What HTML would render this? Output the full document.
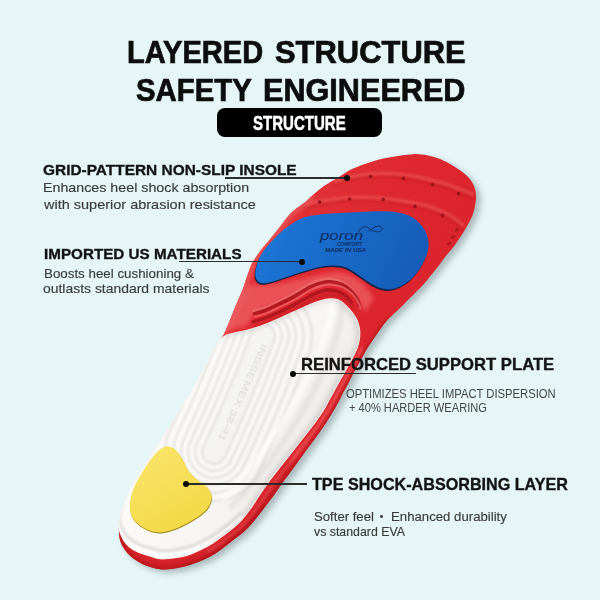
<!DOCTYPE html>
<html><head><meta charset="utf-8"><style>
html,body{margin:0;padding:0}
body{width:600px;height:600px;position:relative;overflow:hidden;background:#e6f5f5;font-family:"Liberation Sans",sans-serif;color:#111}
.t{position:absolute;white-space:nowrap;line-height:1;transform-origin:0 0}
.h1{font-weight:bold;color:#0d0d0d;-webkit-text-stroke:0.7px #0d0d0d}
.pt{font-weight:bold;color:#fff;-webkit-text-stroke:0.5px #fff}
.h2{font-weight:bold;color:#141414;-webkit-text-stroke:0.35px #141414}
.p{color:#3a3a3a;-webkit-text-stroke:0.15px #3a3a3a}
.p2{color:#454545}
.ln{position:absolute;height:1.25px;background:#2c2c2c}
.dot{position:absolute;width:6px;height:6px;border-radius:50%;background:#0a0a0a}
</style></head><body>
<svg id="insole" width="600" height="600" viewBox="0 0 600 600" style="position:absolute;left:0;top:0">
<defs>
<linearGradient id="gr" gradientUnits="userSpaceOnUse" x1="250" y1="180" x2="470" y2="330"><stop offset="0" stop-color="#e43a3d"/><stop offset="0.45" stop-color="#df272f"/><stop offset="1" stop-color="#d9222b"/></linearGradient>
<linearGradient id="gw" gradientUnits="userSpaceOnUse" x1="200" y1="400" x2="325" y2="470"><stop offset="0" stop-color="#fbfaf9"/><stop offset="0.5" stop-color="#f6f5f3"/><stop offset="0.8" stop-color="#eeece9"/><stop offset="1" stop-color="#e1deda"/></linearGradient>
<linearGradient id="gb" gradientUnits="userSpaceOnUse" x1="270" y1="220" x2="420" y2="290"><stop offset="0" stop-color="#1c76d6"/><stop offset="0.5" stop-color="#1968c6"/><stop offset="1" stop-color="#145cb6"/></linearGradient>
<linearGradient id="gy" gradientUnits="userSpaceOnUse" x1="150" y1="450" x2="195" y2="530"><stop offset="0" stop-color="#f9e468"/><stop offset="1" stop-color="#f3d843"/></linearGradient>
<filter id="blur3" filterUnits="userSpaceOnUse" x="0" y="0" width="600" height="600"><feGaussianBlur stdDeviation="3"/></filter>
<filter id="blur1" filterUnits="userSpaceOnUse" x="0" y="0" width="600" height="600"><feGaussianBlur stdDeviation="1"/></filter>
<filter id="blur05" filterUnits="userSpaceOnUse" x="0" y="0" width="600" height="600"><feGaussianBlur stdDeviation="0.6"/></filter>
<filter id="blur2" filterUnits="userSpaceOnUse" x="0" y="0" width="600" height="600"><feGaussianBlur stdDeviation="2.2"/></filter>
<clipPath id="cw"><path d="M119.0,527.0C118.7,522.8 119.8,518.5 121.0,514.0C122.2,509.5 124.2,504.7 126.0,500.0C127.8,495.3 129.7,490.5 132.0,486.0C134.3,481.5 137.2,477.5 140.0,473.0C142.8,468.5 145.7,464.2 149.0,459.0C152.3,453.8 156.5,447.5 160.0,442.0C163.5,436.5 166.7,431.3 170.0,426.0C173.3,420.7 176.7,415.3 180.0,410.0C183.3,404.7 186.7,399.7 190.0,394.0C193.3,388.3 197.0,381.3 200.0,376.0C203.0,370.7 205.7,366.3 208.0,362.0C210.3,357.7 212.2,353.5 214.0,350.0C215.8,346.5 217.2,343.3 219.0,341.0C220.8,338.7 222.8,337.2 225.0,336.0C227.2,334.8 228.3,334.6 232.5,333.5C236.7,332.4 244.6,331.0 250.0,329.5C255.4,328.0 259.6,326.6 265.0,324.5C270.4,322.4 276.7,319.6 282.5,317.0C288.3,314.4 294.6,311.4 300.0,309.0C305.4,306.6 310.4,304.1 315.0,302.5C319.6,300.9 323.8,299.7 327.5,299.2C331.2,298.7 334.4,298.9 337.0,299.5C339.6,300.1 341.0,301.4 343.0,303.0C345.0,304.6 347.2,307.0 349.0,309.0C350.8,311.0 352.6,313.0 354.0,315.0C355.4,317.0 356.4,318.6 357.3,321.0C358.2,323.4 359.1,326.5 359.5,329.3C359.9,332.1 359.8,335.1 359.5,338.0C359.2,340.9 358.4,343.9 357.5,346.7C356.6,349.5 355.4,351.8 354.0,354.7C352.6,357.6 350.7,360.9 349.0,364.0C347.3,367.1 345.8,370.2 344.0,373.3C342.2,376.4 340.2,379.6 338.5,382.7C336.8,385.8 335.1,389.1 333.5,392.0C331.9,394.9 330.8,396.8 329.0,400.0C327.2,403.2 325.6,406.9 323.0,411.0C320.4,415.1 316.8,420.0 313.5,424.5C310.2,429.0 306.6,433.4 303.0,438.0C299.4,442.6 295.7,447.3 292.0,452.0C288.3,456.7 284.7,461.3 281.0,466.0C277.3,470.7 273.6,475.2 270.0,480.0C266.4,484.8 262.9,490.0 259.5,495.0C256.1,500.0 252.5,505.8 249.5,510.0C246.5,514.2 244.2,517.1 241.5,520.0C238.8,522.9 236.4,525.0 233.5,527.5C230.6,530.0 227.4,532.5 224.0,535.0C220.6,537.5 217.3,540.2 213.3,542.7C209.3,545.2 204.4,547.9 200.0,550.0C195.6,552.1 191.1,554.0 186.7,555.3C182.2,556.6 177.8,557.4 173.3,558.0C168.9,558.6 163.9,559.0 160.0,558.7C156.1,558.4 153.7,557.1 150.0,556.0C146.3,554.9 141.5,553.6 138.0,552.0C134.5,550.4 131.5,548.7 129.0,546.5C126.5,544.3 124.7,542.2 123.0,539.0C121.3,535.8 119.3,531.2 119.0,527.0Z"/></clipPath>
<clipPath id="co"><path d="M119.0,527.0C119.2,522.7 119.8,518.5 121.0,514.0C122.2,509.5 124.2,504.7 126.0,500.0C127.8,495.3 129.7,490.5 132.0,486.0C134.3,481.5 137.2,477.5 140.0,473.0C142.8,468.5 145.7,464.2 149.0,459.0C152.3,453.8 156.5,447.5 160.0,442.0C163.5,436.5 166.7,431.3 170.0,426.0C173.3,420.7 176.7,415.3 180.0,410.0C183.3,404.7 186.7,399.7 190.0,394.0C193.3,388.3 197.0,381.3 200.0,376.0C203.0,370.7 205.7,366.3 208.0,362.0C210.3,357.7 212.2,353.5 214.0,350.0C215.8,346.5 217.3,343.7 219.0,341.0C220.7,338.3 222.2,337.5 224.0,334.0C225.8,330.5 228.0,324.8 230.0,320.0C232.0,315.2 233.9,310.0 236.0,305.0C238.1,300.0 240.6,295.0 242.5,290.0C244.4,285.0 245.8,279.6 247.5,275.0C249.2,270.4 250.2,266.7 252.5,262.5C254.8,258.3 258.2,253.7 261.0,250.0C263.8,246.3 266.0,244.2 269.0,240.5C272.0,236.8 275.5,232.4 279.0,228.0C282.5,223.6 286.8,217.4 290.0,214.0C293.2,210.6 295.5,209.2 298.0,207.3C300.5,205.4 302.7,204.2 305.0,202.3C307.3,200.4 308.8,198.5 312.0,195.8C315.2,193.1 320.3,188.6 324.0,186.0C327.7,183.4 331.0,181.8 334.0,180.0C337.0,178.2 339.3,176.7 342.0,175.0C344.7,173.3 346.7,171.7 350.0,170.0C353.3,168.3 358.0,166.5 362.0,165.0C366.0,163.5 370.0,162.2 374.0,161.0C378.0,159.8 382.0,158.8 386.0,158.0C390.0,157.2 394.0,156.6 398.0,156.0C402.0,155.4 407.0,154.9 410.0,154.6C413.0,154.3 413.0,153.9 416.0,154.0C419.0,154.1 424.0,154.6 428.0,155.4C432.0,156.2 435.9,157.3 440.0,159.0C444.1,160.7 448.7,163.2 452.5,165.5C456.3,167.8 460.1,170.2 463.0,172.5C465.9,174.8 468.1,176.8 470.0,179.3C471.9,181.8 473.5,184.7 474.5,187.5C475.5,190.3 475.9,193.2 476.0,196.0C476.1,198.8 475.9,200.9 475.3,204.0C474.8,207.1 474.2,210.9 472.7,214.7C471.2,218.5 468.6,223.2 466.5,227.0C464.4,230.8 462.2,234.1 460.0,237.5C457.8,240.9 455.5,244.2 453.0,247.5C450.5,250.8 447.2,254.2 445.0,257.0C442.8,259.8 442.2,261.2 440.0,264.0C437.8,266.8 435.0,270.3 432.0,274.0C429.0,277.7 425.7,282.0 422.0,286.0C418.3,290.0 413.7,294.3 410.0,298.0C406.3,301.7 403.8,304.3 400.0,308.0C396.2,311.7 390.8,316.5 387.5,320.0C384.2,323.5 382.8,325.8 380.5,329.0C378.2,332.2 375.7,335.8 373.5,339.0C371.3,342.2 369.2,345.2 367.5,348.0C365.8,350.8 364.5,353.3 363.0,356.0C361.5,358.7 360.1,361.2 358.5,364.0C356.9,366.8 355.2,369.8 353.5,373.0C351.8,376.2 350.2,379.8 348.5,383.0C346.8,386.2 345.0,389.2 343.5,392.0C342.0,394.8 341.1,397.0 339.5,400.0C337.9,403.0 336.4,405.9 334.0,410.0C331.6,414.1 328.1,419.8 325.0,424.5C321.9,429.2 318.8,433.4 315.5,438.0C312.2,442.6 308.4,447.3 305.0,452.0C301.6,456.7 298.4,461.3 295.0,466.0C291.6,470.7 288.0,475.2 284.5,480.0C281.0,484.8 277.3,490.4 274.0,495.0C270.7,499.6 267.8,503.2 264.5,507.5C261.2,511.8 257.6,516.8 254.0,521.0C250.4,525.2 246.4,529.4 243.0,532.5C239.6,535.6 236.7,537.3 233.5,539.8C230.3,542.3 227.4,544.8 224.0,547.3C220.6,549.8 217.3,552.4 213.3,554.7C209.3,557.0 204.4,559.4 200.0,561.3C195.6,563.2 191.1,564.8 186.7,566.0C182.2,567.2 177.8,568.2 173.3,568.7C168.9,569.2 164.6,569.8 160.0,569.3C155.4,568.8 150.3,567.2 146.0,565.5C141.7,563.8 137.5,561.6 134.0,559.0C130.5,556.4 127.3,553.2 125.0,550.0C122.7,546.8 121.0,543.8 120.0,540.0C119.0,536.2 118.8,531.3 119.0,527.0Z"/></clipPath>
</defs>
<path d="M119.0,527.0C119.2,522.7 119.8,518.5 121.0,514.0C122.2,509.5 124.2,504.7 126.0,500.0C127.8,495.3 129.7,490.5 132.0,486.0C134.3,481.5 137.2,477.5 140.0,473.0C142.8,468.5 145.7,464.2 149.0,459.0C152.3,453.8 156.5,447.5 160.0,442.0C163.5,436.5 166.7,431.3 170.0,426.0C173.3,420.7 176.7,415.3 180.0,410.0C183.3,404.7 186.7,399.7 190.0,394.0C193.3,388.3 197.0,381.3 200.0,376.0C203.0,370.7 205.7,366.3 208.0,362.0C210.3,357.7 212.2,353.5 214.0,350.0C215.8,346.5 217.3,343.7 219.0,341.0C220.7,338.3 222.2,337.5 224.0,334.0C225.8,330.5 228.0,324.8 230.0,320.0C232.0,315.2 233.9,310.0 236.0,305.0C238.1,300.0 240.6,295.0 242.5,290.0C244.4,285.0 245.8,279.6 247.5,275.0C249.2,270.4 250.2,266.7 252.5,262.5C254.8,258.3 258.2,253.7 261.0,250.0C263.8,246.3 266.0,244.2 269.0,240.5C272.0,236.8 275.5,232.4 279.0,228.0C282.5,223.6 286.8,217.4 290.0,214.0C293.2,210.6 295.5,209.2 298.0,207.3C300.5,205.4 302.7,204.2 305.0,202.3C307.3,200.4 308.8,198.5 312.0,195.8C315.2,193.1 320.3,188.6 324.0,186.0C327.7,183.4 331.0,181.8 334.0,180.0C337.0,178.2 339.3,176.7 342.0,175.0C344.7,173.3 346.7,171.7 350.0,170.0C353.3,168.3 358.0,166.5 362.0,165.0C366.0,163.5 370.0,162.2 374.0,161.0C378.0,159.8 382.0,158.8 386.0,158.0C390.0,157.2 394.0,156.6 398.0,156.0C402.0,155.4 407.0,154.9 410.0,154.6C413.0,154.3 413.0,153.9 416.0,154.0C419.0,154.1 424.0,154.6 428.0,155.4C432.0,156.2 435.9,157.3 440.0,159.0C444.1,160.7 448.7,163.2 452.5,165.5C456.3,167.8 460.1,170.2 463.0,172.5C465.9,174.8 468.1,176.8 470.0,179.3C471.9,181.8 473.5,184.7 474.5,187.5C475.5,190.3 475.9,193.2 476.0,196.0C476.1,198.8 475.9,200.9 475.3,204.0C474.8,207.1 474.2,210.9 472.7,214.7C471.2,218.5 468.6,223.2 466.5,227.0C464.4,230.8 462.2,234.1 460.0,237.5C457.8,240.9 455.5,244.2 453.0,247.5C450.5,250.8 447.2,254.2 445.0,257.0C442.8,259.8 442.2,261.2 440.0,264.0C437.8,266.8 435.0,270.3 432.0,274.0C429.0,277.7 425.7,282.0 422.0,286.0C418.3,290.0 413.7,294.3 410.0,298.0C406.3,301.7 403.8,304.3 400.0,308.0C396.2,311.7 390.8,316.5 387.5,320.0C384.2,323.5 382.8,325.8 380.5,329.0C378.2,332.2 375.7,335.8 373.5,339.0C371.3,342.2 369.2,345.2 367.5,348.0C365.8,350.8 364.5,353.3 363.0,356.0C361.5,358.7 360.1,361.2 358.5,364.0C356.9,366.8 355.2,369.8 353.5,373.0C351.8,376.2 350.2,379.8 348.5,383.0C346.8,386.2 345.0,389.2 343.5,392.0C342.0,394.8 341.1,397.0 339.5,400.0C337.9,403.0 336.4,405.9 334.0,410.0C331.6,414.1 328.1,419.8 325.0,424.5C321.9,429.2 318.8,433.4 315.5,438.0C312.2,442.6 308.4,447.3 305.0,452.0C301.6,456.7 298.4,461.3 295.0,466.0C291.6,470.7 288.0,475.2 284.5,480.0C281.0,484.8 277.3,490.4 274.0,495.0C270.7,499.6 267.8,503.2 264.5,507.5C261.2,511.8 257.6,516.8 254.0,521.0C250.4,525.2 246.4,529.4 243.0,532.5C239.6,535.6 236.7,537.3 233.5,539.8C230.3,542.3 227.4,544.8 224.0,547.3C220.6,549.8 217.3,552.4 213.3,554.7C209.3,557.0 204.4,559.4 200.0,561.3C195.6,563.2 191.1,564.8 186.7,566.0C182.2,567.2 177.8,568.2 173.3,568.7C168.9,569.2 164.6,569.8 160.0,569.3C155.4,568.8 150.3,567.2 146.0,565.5C141.7,563.8 137.5,561.6 134.0,559.0C130.5,556.4 127.3,553.2 125.0,550.0C122.7,546.8 121.0,543.8 120.0,540.0C119.0,536.2 118.8,531.3 119.0,527.0Z" fill="#56696e" opacity="0.42" transform="translate(4.5,3.5)" filter="url(#blur3)"/>
<path d="M119.0,527.0C119.2,522.7 119.8,518.5 121.0,514.0C122.2,509.5 124.2,504.7 126.0,500.0C127.8,495.3 129.7,490.5 132.0,486.0C134.3,481.5 137.2,477.5 140.0,473.0C142.8,468.5 145.7,464.2 149.0,459.0C152.3,453.8 156.5,447.5 160.0,442.0C163.5,436.5 166.7,431.3 170.0,426.0C173.3,420.7 176.7,415.3 180.0,410.0C183.3,404.7 186.7,399.7 190.0,394.0C193.3,388.3 197.0,381.3 200.0,376.0C203.0,370.7 205.7,366.3 208.0,362.0C210.3,357.7 212.2,353.5 214.0,350.0C215.8,346.5 217.3,343.7 219.0,341.0C220.7,338.3 222.2,337.5 224.0,334.0C225.8,330.5 228.0,324.8 230.0,320.0C232.0,315.2 233.9,310.0 236.0,305.0C238.1,300.0 240.6,295.0 242.5,290.0C244.4,285.0 245.8,279.6 247.5,275.0C249.2,270.4 250.2,266.7 252.5,262.5C254.8,258.3 258.2,253.7 261.0,250.0C263.8,246.3 266.0,244.2 269.0,240.5C272.0,236.8 275.5,232.4 279.0,228.0C282.5,223.6 286.8,217.4 290.0,214.0C293.2,210.6 295.5,209.2 298.0,207.3C300.5,205.4 302.7,204.2 305.0,202.3C307.3,200.4 308.8,198.5 312.0,195.8C315.2,193.1 320.3,188.6 324.0,186.0C327.7,183.4 331.0,181.8 334.0,180.0C337.0,178.2 339.3,176.7 342.0,175.0C344.7,173.3 346.7,171.7 350.0,170.0C353.3,168.3 358.0,166.5 362.0,165.0C366.0,163.5 370.0,162.2 374.0,161.0C378.0,159.8 382.0,158.8 386.0,158.0C390.0,157.2 394.0,156.6 398.0,156.0C402.0,155.4 407.0,154.9 410.0,154.6C413.0,154.3 413.0,153.9 416.0,154.0C419.0,154.1 424.0,154.6 428.0,155.4C432.0,156.2 435.9,157.3 440.0,159.0C444.1,160.7 448.7,163.2 452.5,165.5C456.3,167.8 460.1,170.2 463.0,172.5C465.9,174.8 468.1,176.8 470.0,179.3C471.9,181.8 473.5,184.7 474.5,187.5C475.5,190.3 475.9,193.2 476.0,196.0C476.1,198.8 475.9,200.9 475.3,204.0C474.8,207.1 474.2,210.9 472.7,214.7C471.2,218.5 468.6,223.2 466.5,227.0C464.4,230.8 462.2,234.1 460.0,237.5C457.8,240.9 455.5,244.2 453.0,247.5C450.5,250.8 447.2,254.2 445.0,257.0C442.8,259.8 442.2,261.2 440.0,264.0C437.8,266.8 435.0,270.3 432.0,274.0C429.0,277.7 425.7,282.0 422.0,286.0C418.3,290.0 413.7,294.3 410.0,298.0C406.3,301.7 403.8,304.3 400.0,308.0C396.2,311.7 390.8,316.5 387.5,320.0C384.2,323.5 382.8,325.8 380.5,329.0C378.2,332.2 375.7,335.8 373.5,339.0C371.3,342.2 369.2,345.2 367.5,348.0C365.8,350.8 364.5,353.3 363.0,356.0C361.5,358.7 360.1,361.2 358.5,364.0C356.9,366.8 355.2,369.8 353.5,373.0C351.8,376.2 350.2,379.8 348.5,383.0C346.8,386.2 345.0,389.2 343.5,392.0C342.0,394.8 341.1,397.0 339.5,400.0C337.9,403.0 336.4,405.9 334.0,410.0C331.6,414.1 328.1,419.8 325.0,424.5C321.9,429.2 318.8,433.4 315.5,438.0C312.2,442.6 308.4,447.3 305.0,452.0C301.6,456.7 298.4,461.3 295.0,466.0C291.6,470.7 288.0,475.2 284.5,480.0C281.0,484.8 277.3,490.4 274.0,495.0C270.7,499.6 267.8,503.2 264.5,507.5C261.2,511.8 257.6,516.8 254.0,521.0C250.4,525.2 246.4,529.4 243.0,532.5C239.6,535.6 236.7,537.3 233.5,539.8C230.3,542.3 227.4,544.8 224.0,547.3C220.6,549.8 217.3,552.4 213.3,554.7C209.3,557.0 204.4,559.4 200.0,561.3C195.6,563.2 191.1,564.8 186.7,566.0C182.2,567.2 177.8,568.2 173.3,568.7C168.9,569.2 164.6,569.8 160.0,569.3C155.4,568.8 150.3,567.2 146.0,565.5C141.7,563.8 137.5,561.6 134.0,559.0C130.5,556.4 127.3,553.2 125.0,550.0C122.7,546.8 121.0,543.8 120.0,540.0C119.0,536.2 118.8,531.3 119.0,527.0Z" fill="url(#gr)"/>
<g clip-path="url(#co)">
<path d="M334.0,182.0C336.7,181.2 343.7,178.3 350.0,177.0C356.3,175.7 364.5,174.5 372.0,174.0C379.5,173.5 387.0,173.4 395.0,174.0C403.0,174.6 411.7,175.8 420.0,177.5C428.3,179.2 437.8,181.8 445.0,184.0C452.2,186.2 458.2,188.7 463.0,190.5C467.8,192.3 472.2,194.2 474.0,195.0" fill="none" stroke="#ec5f61" stroke-width="4" opacity=".5" filter="url(#blur1)"/>
<path d="M305.0,204.5C308.3,203.8 317.5,201.7 325.0,200.5C332.5,199.3 340.8,197.9 350.0,197.5C359.2,197.1 370.8,197.3 380.0,198.0C389.2,198.7 396.7,200.0 405.0,201.5C413.3,203.0 422.5,204.7 430.0,207.0C437.5,209.3 444.3,212.2 450.0,215.5C455.7,218.8 461.7,224.7 464.0,226.5" fill="none" stroke="#ec5f61" stroke-width="4" opacity=".5" filter="url(#blur1)"/>
<path d="M334.0,182.0C336.7,181.2 343.7,178.3 350.0,177.0C356.3,175.7 364.5,174.5 372.0,174.0C379.5,173.5 387.0,173.4 395.0,174.0C403.0,174.6 411.7,175.8 420.0,177.5C428.3,179.2 437.8,181.8 445.0,184.0C452.2,186.2 458.2,188.7 463.0,190.5C467.8,192.3 472.2,194.2 474.0,195.0" fill="none" stroke="#b8161e" stroke-width="2" opacity=".35" transform="translate(-0.5,3.5)" filter="url(#blur1)"/>
<path d="M305.0,204.5C308.3,203.8 317.5,201.7 325.0,200.5C332.5,199.3 340.8,197.9 350.0,197.5C359.2,197.1 370.8,197.3 380.0,198.0C389.2,198.7 396.7,200.0 405.0,201.5C413.3,203.0 422.5,204.7 430.0,207.0C437.5,209.3 444.3,212.2 450.0,215.5C455.7,218.8 461.7,224.7 464.0,226.5" fill="none" stroke="#b8161e" stroke-width="2" opacity=".35" transform="translate(-0.5,3.5)" filter="url(#blur1)"/>
<path d="M219.0,341.0C219.8,339.8 222.2,337.5 224.0,334.0C225.8,330.5 228.0,324.8 230.0,320.0C232.0,315.2 233.9,310.0 236.0,305.0C238.1,300.0 240.6,295.0 242.5,290.0C244.4,285.0 245.8,279.6 247.5,275.0C249.2,270.4 250.2,266.7 252.5,262.5C254.8,258.3 258.2,253.7 261.0,250.0C263.8,246.3 266.0,244.2 269.0,240.5C272.0,236.8 275.5,232.4 279.0,228.0C282.5,223.6 286.8,217.4 290.0,214.0C293.2,210.6 295.5,209.2 298.0,207.3C300.5,205.4 302.7,204.2 305.0,202.3C307.3,200.4 310.8,196.9 312.0,195.8" fill="none" stroke="#ec5a5c" stroke-width="9" opacity=".7" filter="url(#blur2)"/>
<path d="M226,330 L236,300 L248,285 C280,288 310,275 335,272 C352,272 366,284 374,298 L365,312 C355,290 345,284 332,284 C310,286 285,300 255,312 L246,326 Z" fill="#ee6466" opacity=".7" filter="url(#blur2)"/>
<path d="M253.3,314.0C255.2,313.4 260.6,312.2 265.0,310.5C269.4,308.8 275.0,305.9 280.0,303.5C285.0,301.1 290.0,298.8 295.0,296.0C300.0,293.2 305.5,289.2 310.0,287.0C314.5,284.8 318.2,283.4 322.0,282.5C325.8,281.6 329.0,281.4 332.5,281.8C336.0,282.2 339.8,283.2 343.0,284.8C346.2,286.4 349.5,288.9 352.0,291.5C354.5,294.1 356.8,298.0 358.0,300.5C359.2,303.0 359.2,305.5 359.5,306.5" fill="none" stroke="#f07476" stroke-width="2.5" opacity=".6" transform="translate(-0.8,-2.8)" filter="url(#blur05)"/>
<path d="M253.3,314.0C255.2,313.4 260.6,312.2 265.0,310.5C269.4,308.8 275.0,305.9 280.0,303.5C285.0,301.1 290.0,298.8 295.0,296.0C300.0,293.2 305.5,289.2 310.0,287.0C314.5,284.8 318.2,283.4 322.0,282.5C325.8,281.6 329.0,281.4 332.5,281.8C336.0,282.2 339.8,283.2 343.0,284.8C346.2,286.4 349.5,288.9 352.0,291.5C354.5,294.1 356.8,298.0 358.0,300.5C359.2,303.0 359.2,305.5 359.5,306.5" fill="none" stroke="#a8141c" stroke-width="3.2" opacity=".85" filter="url(#blur05)"/>
<path d="M252.0,322.0C254.2,321.3 260.3,319.7 265.0,318.0C269.7,316.3 275.0,314.1 280.0,311.8C285.0,309.5 290.0,306.9 295.0,304.3C300.0,301.7 305.5,298.2 310.0,296.0C314.5,293.8 318.5,291.8 322.0,290.8C325.5,289.8 328.0,289.8 331.0,290.0C334.0,290.2 337.2,291.1 340.0,292.3C342.8,293.6 345.5,295.6 347.5,297.5C349.5,299.4 351.2,302.5 352.0,303.5" fill="none" stroke="#a8141c" stroke-width="3.4" opacity=".85" filter="url(#blur05)"/>
<path d="M252.0,322.0C254.2,321.3 260.3,319.7 265.0,318.0C269.7,316.3 275.0,314.1 280.0,311.8C285.0,309.5 290.0,306.9 295.0,304.3C300.0,301.7 305.5,298.2 310.0,296.0C314.5,293.8 318.5,291.8 322.0,290.8C325.5,289.8 328.0,289.8 331.0,290.0C334.0,290.2 337.2,291.1 340.0,292.3C342.8,293.6 345.5,295.6 347.5,297.5C349.5,299.4 351.2,302.5 352.0,303.5" fill="none" stroke="#c01c24" stroke-width="5" opacity=".5" transform="translate(1.5,5)" filter="url(#blur1)"/>
<path d="M253.3,314.0C255.2,313.4 260.6,312.2 265.0,310.5C269.4,308.8 275.0,305.9 280.0,303.5C285.0,301.1 290.0,298.8 295.0,296.0C300.0,293.2 305.5,289.2 310.0,287.0C314.5,284.8 318.2,283.4 322.0,282.5C325.8,281.6 329.0,281.4 332.5,281.8C336.0,282.2 339.8,283.2 343.0,284.8C346.2,286.4 349.5,288.9 352.0,291.5C354.5,294.1 356.8,298.0 358.0,300.5C359.2,303.0 359.2,305.5 359.5,306.5" fill="none" stroke="#ee6a6c" stroke-width="1.8" opacity=".75" transform="translate(0.9,3)" filter="url(#blur05)"/>
<path d="M387.5,320.0C386.3,321.5 382.8,325.8 380.5,329.0C378.2,332.2 375.7,335.8 373.5,339.0C371.3,342.2 369.2,345.2 367.5,348.0C365.8,350.8 364.5,353.3 363.0,356.0C361.5,358.7 360.1,361.2 358.5,364.0C356.9,366.8 355.2,369.8 353.5,373.0C351.8,376.2 350.2,379.8 348.5,383.0C346.8,386.2 345.0,389.2 343.5,392.0C342.0,394.8 341.1,397.0 339.5,400.0C337.9,403.0 336.4,405.9 334.0,410.0C331.6,414.1 328.1,419.8 325.0,424.5C321.9,429.2 318.8,433.4 315.5,438.0C312.2,442.6 308.4,447.3 305.0,452.0C301.6,456.7 298.4,461.3 295.0,466.0C291.6,470.7 288.0,475.2 284.5,480.0C281.0,484.8 277.3,490.4 274.0,495.0C270.7,499.6 267.8,503.2 264.5,507.5C261.2,511.8 257.6,516.8 254.0,521.0C250.4,525.2 246.4,529.4 243.0,532.5C239.6,535.6 236.7,537.3 233.5,539.8C230.3,542.3 227.4,544.8 224.0,547.3C220.6,549.8 217.3,552.4 213.3,554.7C209.3,557.0 204.4,559.4 200.0,561.3C195.6,563.2 188.9,565.2 186.7,566.0" fill="none" stroke="#a5141b" stroke-width="4" opacity=".6" filter="url(#blur1)"/>
<path d="M362.0,347.4C361.3,348.7 359.5,352.6 358.0,355.4C356.5,358.1 354.9,361.0 353.2,364.0C351.6,367.0 350.0,370.0 348.2,373.1C346.5,376.3 344.7,379.7 343.0,382.9C341.3,386.0 339.5,389.1 338.0,392.0C336.5,394.9 335.4,396.9 333.8,400.0C332.1,403.1 330.5,406.4 328.0,410.5C325.5,414.6 322.0,419.9 318.8,424.5C315.5,429.1 312.2,433.4 308.8,438.0C305.3,442.6 301.5,447.3 298.0,452.0C294.5,456.7 291.0,461.3 287.5,466.0C284.0,470.7 280.3,475.2 276.8,480.0C273.2,484.8 269.6,490.2 266.2,495.0C262.9,499.8 259.7,504.5 256.5,508.8C253.3,513.0 250.4,517.0 247.2,520.5C244.1,524.0 240.9,527.2 237.8,530.0C234.6,532.8 231.5,534.9 228.2,537.4C225.0,539.9 221.8,542.5 218.2,545.0C214.5,547.5 208.2,551.1 206.2,552.4" fill="none" stroke="#ee5b5d" stroke-width="3" opacity=".7" filter="url(#blur1)"/>
<path d="M295.0,466.0C293.2,468.3 288.0,475.2 284.5,480.0C281.0,484.8 277.3,490.4 274.0,495.0C270.7,499.6 267.8,503.2 264.5,507.5C261.2,511.8 257.6,516.8 254.0,521.0C250.4,525.2 246.4,529.4 243.0,532.5C239.6,535.6 236.7,537.3 233.5,539.8C230.3,542.3 227.4,544.8 224.0,547.3C220.6,549.8 217.3,552.4 213.3,554.7C209.3,557.0 204.4,559.4 200.0,561.3C195.6,563.2 191.1,564.8 186.7,566.0C182.2,567.2 177.8,568.2 173.3,568.7C168.9,569.2 164.6,569.8 160.0,569.3C155.4,568.8 150.3,567.2 146.0,565.5C141.7,563.8 137.5,561.6 134.0,559.0C130.5,556.4 127.3,553.2 125.0,550.0C122.7,546.8 121.0,543.8 120.0,540.0C119.0,536.2 119.2,529.2 119.0,527.0" fill="none" stroke="#b8161e" stroke-width="14" opacity=".45" filter="url(#blur2)"/>
<path d="M264.5,507.5C262.8,509.8 257.6,516.8 254.0,521.0C250.4,525.2 246.4,529.4 243.0,532.5C239.6,535.6 236.7,537.3 233.5,539.8C230.3,542.3 227.4,544.8 224.0,547.3C220.6,549.8 217.3,552.4 213.3,554.7C209.3,557.0 204.4,559.4 200.0,561.3C195.6,563.2 191.1,564.8 186.7,566.0C182.2,567.2 177.8,568.2 173.3,568.7C168.9,569.2 164.6,569.8 160.0,569.3C155.4,568.8 150.3,567.2 146.0,565.5C141.7,563.8 137.5,561.6 134.0,559.0C130.5,556.4 127.3,553.2 125.0,550.0C122.7,546.8 121.0,543.8 120.0,540.0C119.0,536.2 119.2,529.2 119.0,527.0" fill="none" stroke="#a5121a" stroke-width="3" opacity=".5" filter="url(#blur1)"/>
<circle cx="319.6" cy="202" r="1.8" fill="#9c1018"/><circle cx="349.6" cy="199" r="1.8" fill="#9c1018"/><circle cx="383.2" cy="199.4" r="1.8" fill="#9c1018"/><circle cx="415" cy="206.4" r="1.8" fill="#9c1018"/><circle cx="442.6" cy="215.6" r="1.8" fill="#9c1018"/><circle cx="370.6" cy="176.6" r="1.8" fill="#9c1018"/><circle cx="403.4" cy="178.4" r="1.8" fill="#9c1018"/><circle cx="432.4" cy="184.6" r="1.8" fill="#9c1018"/><circle cx="458.6" cy="193.6" r="1.8" fill="#9c1018"/><ellipse cx="457" cy="230" rx="2.6" ry="1.6" transform="rotate(-35 457 230)" fill="#b5181f"/><ellipse cx="453" cy="237" rx="2.6" ry="1.6" transform="rotate(-35 453 237)" fill="#b5181f"/><ellipse cx="449" cy="243.5" rx="2.6" ry="1.6" transform="rotate(-35 449 243.5)" fill="#b5181f"/>
</g>
<path d="M290.0,225.0C293.0,223.0 296.7,220.5 300.0,219.0C303.3,217.5 305.0,216.9 310.0,216.0C315.0,215.1 323.3,214.2 330.0,213.6C336.7,213.0 343.3,212.8 350.0,212.4C356.7,212.0 363.3,211.6 370.0,211.4C376.7,211.2 384.3,211.0 390.0,211.4C395.7,211.8 400.0,212.6 404.0,213.8C408.0,215.0 411.0,216.5 414.0,218.5C417.0,220.5 419.8,223.2 422.0,226.0C424.2,228.8 425.9,231.8 427.0,235.0C428.1,238.2 428.6,241.8 428.6,245.0C428.6,248.2 427.9,251.0 427.0,254.0C426.1,257.0 424.5,260.2 423.0,263.0C421.5,265.8 420.2,268.2 418.0,271.0C415.8,273.8 413.0,277.4 410.0,280.0C407.0,282.6 403.3,284.9 400.0,286.5C396.7,288.1 393.3,289.1 390.0,289.3C386.7,289.6 383.3,289.1 380.0,288.0C376.7,286.9 373.3,285.0 370.0,283.0C366.7,281.0 363.3,278.2 360.0,276.0C356.7,273.8 353.3,271.2 350.0,269.5C346.7,267.8 344.2,266.6 340.0,266.0C335.8,265.4 330.8,265.2 325.0,266.0C319.2,266.8 311.7,269.1 305.0,271.0C298.3,272.9 290.8,275.6 285.0,277.5C279.2,279.4 274.0,281.4 270.0,282.3C266.0,283.2 263.3,283.6 261.0,283.0C258.7,282.4 257.2,280.8 256.3,279.0C255.4,277.2 255.1,275.2 255.5,272.0C255.9,268.8 256.9,263.8 258.5,260.0C260.1,256.2 262.4,252.5 265.0,249.0C267.6,245.5 271.2,242.0 274.0,239.0C276.8,236.0 279.3,233.3 282.0,231.0C284.7,228.7 287.0,227.0 290.0,225.0Z" fill="#0b2148" transform="translate(-0.7,1.5)"/>
<path d="M290.0,225.0C293.0,223.0 296.7,220.5 300.0,219.0C303.3,217.5 305.0,216.9 310.0,216.0C315.0,215.1 323.3,214.2 330.0,213.6C336.7,213.0 343.3,212.8 350.0,212.4C356.7,212.0 363.3,211.6 370.0,211.4C376.7,211.2 384.3,211.0 390.0,211.4C395.7,211.8 400.0,212.6 404.0,213.8C408.0,215.0 411.0,216.5 414.0,218.5C417.0,220.5 419.8,223.2 422.0,226.0C424.2,228.8 425.9,231.8 427.0,235.0C428.1,238.2 428.6,241.8 428.6,245.0C428.6,248.2 427.9,251.0 427.0,254.0C426.1,257.0 424.5,260.2 423.0,263.0C421.5,265.8 420.2,268.2 418.0,271.0C415.8,273.8 413.0,277.4 410.0,280.0C407.0,282.6 403.3,284.9 400.0,286.5C396.7,288.1 393.3,289.1 390.0,289.3C386.7,289.6 383.3,289.1 380.0,288.0C376.7,286.9 373.3,285.0 370.0,283.0C366.7,281.0 363.3,278.2 360.0,276.0C356.7,273.8 353.3,271.2 350.0,269.5C346.7,267.8 344.2,266.6 340.0,266.0C335.8,265.4 330.8,265.2 325.0,266.0C319.2,266.8 311.7,269.1 305.0,271.0C298.3,272.9 290.8,275.6 285.0,277.5C279.2,279.4 274.0,281.4 270.0,282.3C266.0,283.2 263.3,283.6 261.0,283.0C258.7,282.4 257.2,280.8 256.3,279.0C255.4,277.2 255.1,275.2 255.5,272.0C255.9,268.8 256.9,263.8 258.5,260.0C260.1,256.2 262.4,252.5 265.0,249.0C267.6,245.5 271.2,242.0 274.0,239.0C276.8,236.0 279.3,233.3 282.0,231.0C284.7,228.7 287.0,227.0 290.0,225.0Z" fill="url(#gb)"/>
<path d="M119.0,527.0C118.7,522.8 119.8,518.5 121.0,514.0C122.2,509.5 124.2,504.7 126.0,500.0C127.8,495.3 129.7,490.5 132.0,486.0C134.3,481.5 137.2,477.5 140.0,473.0C142.8,468.5 145.7,464.2 149.0,459.0C152.3,453.8 156.5,447.5 160.0,442.0C163.5,436.5 166.7,431.3 170.0,426.0C173.3,420.7 176.7,415.3 180.0,410.0C183.3,404.7 186.7,399.7 190.0,394.0C193.3,388.3 197.0,381.3 200.0,376.0C203.0,370.7 205.7,366.3 208.0,362.0C210.3,357.7 212.2,353.5 214.0,350.0C215.8,346.5 217.2,343.3 219.0,341.0C220.8,338.7 222.8,337.2 225.0,336.0C227.2,334.8 228.3,334.6 232.5,333.5C236.7,332.4 244.6,331.0 250.0,329.5C255.4,328.0 259.6,326.6 265.0,324.5C270.4,322.4 276.7,319.6 282.5,317.0C288.3,314.4 294.6,311.4 300.0,309.0C305.4,306.6 310.4,304.1 315.0,302.5C319.6,300.9 323.8,299.7 327.5,299.2C331.2,298.7 334.4,298.9 337.0,299.5C339.6,300.1 341.0,301.4 343.0,303.0C345.0,304.6 347.2,307.0 349.0,309.0C350.8,311.0 352.6,313.0 354.0,315.0C355.4,317.0 356.4,318.6 357.3,321.0C358.2,323.4 359.1,326.5 359.5,329.3C359.9,332.1 359.8,335.1 359.5,338.0C359.2,340.9 358.4,343.9 357.5,346.7C356.6,349.5 355.4,351.8 354.0,354.7C352.6,357.6 350.7,360.9 349.0,364.0C347.3,367.1 345.8,370.2 344.0,373.3C342.2,376.4 340.2,379.6 338.5,382.7C336.8,385.8 335.1,389.1 333.5,392.0C331.9,394.9 330.8,396.8 329.0,400.0C327.2,403.2 325.6,406.9 323.0,411.0C320.4,415.1 316.8,420.0 313.5,424.5C310.2,429.0 306.6,433.4 303.0,438.0C299.4,442.6 295.7,447.3 292.0,452.0C288.3,456.7 284.7,461.3 281.0,466.0C277.3,470.7 273.6,475.2 270.0,480.0C266.4,484.8 262.9,490.0 259.5,495.0C256.1,500.0 252.5,505.8 249.5,510.0C246.5,514.2 244.2,517.1 241.5,520.0C238.8,522.9 236.4,525.0 233.5,527.5C230.6,530.0 227.4,532.5 224.0,535.0C220.6,537.5 217.3,540.2 213.3,542.7C209.3,545.2 204.4,547.9 200.0,550.0C195.6,552.1 191.1,554.0 186.7,555.3C182.2,556.6 177.8,557.4 173.3,558.0C168.9,558.6 163.9,559.0 160.0,558.7C156.1,558.4 153.7,557.1 150.0,556.0C146.3,554.9 141.5,553.6 138.0,552.0C134.5,550.4 131.5,548.7 129.0,546.5C126.5,544.3 124.7,542.2 123.0,539.0C121.3,535.8 119.3,531.2 119.0,527.0Z" fill="url(#gw)" stroke="#f8f7f5" stroke-width="1.2"/>
<g clip-path="url(#cw)">
<g filter="url(#blur1)" opacity=".5"><path d="M263,336 Q241.5,394.0 214,452" fill="none" stroke="#cfccc7" stroke-width="100" stroke-linecap="round"/><path d="M263,336 Q241.5,394.0 214,452" fill="none" stroke="#faf9f7" stroke-width="95.5" stroke-linecap="round"/><path d="M263,336 Q241.5,394.0 214,452" fill="none" stroke="#cfccc7" stroke-width="84" stroke-linecap="round"/><path d="M263,336 Q241.5,394.0 214,452" fill="none" stroke="#faf9f7" stroke-width="79.5" stroke-linecap="round"/><path d="M263,336 Q241.5,394.0 214,452" fill="none" stroke="#cfccc7" stroke-width="68" stroke-linecap="round"/><path d="M263,336 Q241.5,394.0 214,452" fill="none" stroke="#faf9f7" stroke-width="63.5" stroke-linecap="round"/><path d="M263,336 Q241.5,394.0 214,452" fill="none" stroke="#cfccc7" stroke-width="54" stroke-linecap="round"/><path d="M263,336 Q241.5,394.0 214,452" fill="none" stroke="#faf9f7" stroke-width="49.5" stroke-linecap="round"/><path d="M263,336 Q241.5,394.0 214,452" fill="none" stroke="#cfccc7" stroke-width="40" stroke-linecap="round"/><path d="M263,336 Q241.5,394.0 214,452" fill="none" stroke="#faf9f7" stroke-width="35.5" stroke-linecap="round"/><path d="M263,336 Q241.5,394.0 214,452" fill="none" stroke="#c9c6c1" stroke-width="26" stroke-linecap="round"/><path d="M263,336 Q241.5,394.0 214,452" fill="none" stroke="#f0efec" stroke-width="22" stroke-linecap="round"/></g>
<text transform="translate(262,343) rotate(114.5)" font-family="Liberation Sans, sans-serif" font-size="9.5" fill="#cbc8c3" opacity=".38" textLength="106" lengthAdjust="spacingAndGlyphs" font-weight="bold">INSSEMEX  38-41</text>
<path d="M333,300 C330,340 300,400 262,452 C250,470 235,488 222,500" fill="none" stroke="#ffffff" stroke-width="5" opacity=".8" filter="url(#blur2)"/>
<path d="M342,306 C340,345 310,405 272,458 C258,478 243,496 230,508" fill="none" stroke="#cdcac5" stroke-width="4" opacity=".5" filter="url(#blur2)"/>
<path d="M337.0,299.5C338.0,300.1 341.0,301.4 343.0,303.0C345.0,304.6 347.2,307.0 349.0,309.0C350.8,311.0 352.6,313.0 354.0,315.0C355.4,317.0 356.4,318.6 357.3,321.0C358.2,323.4 359.1,326.5 359.5,329.3C359.9,332.1 359.8,335.1 359.5,338.0C359.2,340.9 358.4,343.9 357.5,346.7C356.6,349.5 355.4,351.8 354.0,354.7C352.6,357.6 350.7,360.9 349.0,364.0C347.3,367.1 345.8,370.2 344.0,373.3C342.2,376.4 340.2,379.6 338.5,382.7C336.8,385.8 335.1,389.1 333.5,392.0C331.9,394.9 330.8,396.8 329.0,400.0C327.2,403.2 325.6,406.9 323.0,411.0C320.4,415.1 316.8,420.0 313.5,424.5C310.2,429.0 306.6,433.4 303.0,438.0C299.4,442.6 295.7,447.3 292.0,452.0C288.3,456.7 284.7,461.3 281.0,466.0C277.3,470.7 273.6,475.2 270.0,480.0C266.4,484.8 262.9,490.0 259.5,495.0C256.1,500.0 252.5,505.8 249.5,510.0C246.5,514.2 244.2,517.1 241.5,520.0C238.8,522.9 236.4,525.0 233.5,527.5C230.6,530.0 227.4,532.5 224.0,535.0C220.6,537.5 215.1,541.4 213.3,542.7" fill="none" stroke="#c8c5c0" stroke-width="8" opacity=".6" filter="url(#blur2)"/>
<path d="M225.0,336.0C226.2,335.6 228.3,334.6 232.5,333.5C236.7,332.4 244.6,331.0 250.0,329.5C255.4,328.0 259.6,326.6 265.0,324.5C270.4,322.4 276.7,319.6 282.5,317.0C288.3,314.4 294.6,311.4 300.0,309.0C305.4,306.6 310.4,304.1 315.0,302.5C319.6,300.9 323.8,299.7 327.5,299.2C331.2,298.7 335.4,299.4 337.0,299.5" fill="none" stroke="#c4c1bc" stroke-width="4" opacity=".5" filter="url(#blur2)"/>
<path d="M241.5,520.0C240.2,521.2 236.4,525.0 233.5,527.5C230.6,530.0 227.4,532.5 224.0,535.0C220.6,537.5 217.3,540.2 213.3,542.7C209.3,545.2 204.4,547.9 200.0,550.0C195.6,552.1 191.1,554.0 186.7,555.3C182.2,556.6 177.8,557.4 173.3,558.0C168.9,558.6 163.9,559.0 160.0,558.7C156.1,558.4 153.7,557.1 150.0,556.0C146.3,554.9 141.5,553.6 138.0,552.0C134.5,550.4 131.5,548.7 129.0,546.5C126.5,544.3 124.7,542.2 123.0,539.0C121.3,535.8 119.3,531.2 119.0,527.0C118.7,522.8 120.7,516.2 121.0,514.0" fill="none" stroke="#ffffff" stroke-width="3" opacity=".9" transform="translate(0.5,-4)" filter="url(#blur1)"/>
<path d="M241.5,520.0C240.2,521.2 236.4,525.0 233.5,527.5C230.6,530.0 227.4,532.5 224.0,535.0C220.6,537.5 217.3,540.2 213.3,542.7C209.3,545.2 204.4,547.9 200.0,550.0C195.6,552.1 191.1,554.0 186.7,555.3C182.2,556.6 177.8,557.4 173.3,558.0C168.9,558.6 163.9,559.0 160.0,558.7C156.1,558.4 153.7,557.1 150.0,556.0C146.3,554.9 141.5,553.6 138.0,552.0C134.5,550.4 131.5,548.7 129.0,546.5C126.5,544.3 124.7,542.2 123.0,539.0C121.3,535.8 119.3,531.2 119.0,527.0C118.7,522.8 120.7,516.2 121.0,514.0" fill="none" stroke="#cfccc8" stroke-width="3" opacity=".6" transform="translate(0.5,-8)" filter="url(#blur1)"/>
</g>
<path d="M168.0,446.4C169.8,446.6 172.2,447.2 174.0,448.5C175.8,449.8 177.3,451.8 179.0,454.0C180.7,456.2 182.5,459.3 184.0,462.0C185.5,464.7 186.3,467.5 188.0,470.0C189.7,472.5 191.8,474.9 194.0,477.0C196.2,479.1 198.7,480.7 201.0,482.5C203.3,484.3 206.2,485.6 208.0,488.0C209.8,490.4 211.4,494.0 211.6,497.0C211.8,500.0 210.4,503.3 209.0,506.0C207.6,508.7 205.2,511.0 203.0,513.0C200.8,515.0 198.7,516.2 196.0,518.0C193.3,519.8 190.5,521.6 186.7,523.5C182.9,525.4 177.8,528.0 173.3,529.5C168.9,531.0 164.2,532.4 160.0,532.5C155.8,532.6 151.7,531.4 148.0,530.0C144.3,528.6 140.8,526.3 138.0,524.0C135.2,521.7 132.8,519.3 131.5,516.0C130.2,512.7 129.8,508.3 130.0,504.0C130.2,499.7 131.3,494.7 133.0,490.0C134.7,485.3 137.3,480.7 140.0,476.0C142.7,471.3 146.2,466.0 149.0,462.0C151.8,458.0 154.7,454.4 157.0,452.0C159.3,449.6 161.2,448.4 163.0,447.5C164.8,446.6 166.2,446.2 168.0,446.4Z" fill="#9c8518" transform="translate(0.4,1)"/>
<path d="M168.0,446.4C169.8,446.6 172.2,447.2 174.0,448.5C175.8,449.8 177.3,451.8 179.0,454.0C180.7,456.2 182.5,459.3 184.0,462.0C185.5,464.7 186.3,467.5 188.0,470.0C189.7,472.5 191.8,474.9 194.0,477.0C196.2,479.1 198.7,480.7 201.0,482.5C203.3,484.3 206.2,485.6 208.0,488.0C209.8,490.4 211.4,494.0 211.6,497.0C211.8,500.0 210.4,503.3 209.0,506.0C207.6,508.7 205.2,511.0 203.0,513.0C200.8,515.0 198.7,516.2 196.0,518.0C193.3,519.8 190.5,521.6 186.7,523.5C182.9,525.4 177.8,528.0 173.3,529.5C168.9,531.0 164.2,532.4 160.0,532.5C155.8,532.6 151.7,531.4 148.0,530.0C144.3,528.6 140.8,526.3 138.0,524.0C135.2,521.7 132.8,519.3 131.5,516.0C130.2,512.7 129.8,508.3 130.0,504.0C130.2,499.7 131.3,494.7 133.0,490.0C134.7,485.3 137.3,480.7 140.0,476.0C142.7,471.3 146.2,466.0 149.0,462.0C151.8,458.0 154.7,454.4 157.0,452.0C159.3,449.6 161.2,448.4 163.0,447.5C164.8,446.6 166.2,446.2 168.0,446.4Z" fill="url(#gy)"/>
<g font-family="Liberation Sans, sans-serif" fill="#0c2d63" font-style="italic">
<text x="320" y="239.5" font-size="13" textLength="43" lengthAdjust="spacingAndGlyphs">poron</text>
<text x="337" y="246" font-size="4.6" font-weight="bold" textLength="25" lengthAdjust="spacingAndGlyphs">COMFORT</text>
<text x="325" y="251.6" font-size="4.6" font-weight="bold" textLength="41" lengthAdjust="spacingAndGlyphs">MADE IN USA</text>
<path d="M358.5,232.5 C360,227 365,225.3 369,228.3 C372,230.8 377,233 380.5,231 C383.5,229 382,225.6 378,226 C374,226.5 371.5,229.5 368.5,231.5" fill="none" stroke="#0c2d63" stroke-width="0.85"/>
</g>
</svg>
<div id="pill" style="position:absolute;left:217px;top:108px;width:165px;height:29px;border-radius:8px;background:#000"></div>
<div class="t h1" id="h1a" style="left:127.18px;top:35.91px;font-size:32px;transform:scaleX(0.9082);">LAYERED</div>
<div class="t h1" id="h1a2" style="left:275.03px;top:35.91px;font-size:32px;transform:scaleX(0.9662);">STRUCTURE</div>
<div class="t h1" id="h1b" style="left:136.48px;top:74.11px;font-size:32px;transform:scaleX(0.9168);">SAFETY</div>
<div class="t h1" id="h1b2" style="left:262.59px;top:74.11px;font-size:32px;transform:scaleX(0.9567);">ENGINEERED</div>
<div class="t pt" id="pillt" style="left:253.25px;top:113.07px;font-size:20px;transform:scaleX(0.7516);">STRUCTURE</div>
<div class="t h2" id="t1" style="left:42.75px;top:161.88px;font-size:15.5px;transform:scaleX(0.9951);">GRID-PATTERN NON-SLIP INSOLE</div>
<div class="t p" id="t1a" style="left:43.45px;top:181.49px;font-size:13.6px;transform:scaleX(1.0487);">Enhances heel shock absorption</div>
<div class="t p" id="t1b" style="left:44.00px;top:197.99px;font-size:13.6px;transform:scaleX(1.0657);">with superior abrasion resistance</div>
<div class="t h2" id="t2" style="left:43.92px;top:245.88px;font-size:15.5px;transform:scaleX(0.9818);">IMPORTED US MATERIALS</div>
<div class="t p" id="t2a" style="left:43.92px;top:266.59px;font-size:13.6px;transform:scaleX(0.9815);">Boosts heel cushioning &amp;</div>
<div class="t p" id="t2b" style="left:42.98px;top:281.59px;font-size:13.6px;transform:scaleX(1.0248);">outlasts standard materials</div>
<div class="t h2" id="t3" style="left:301.02px;top:355.61px;font-size:17px;transform:scaleX(0.9796);">REINFORCED SUPPORT PLATE</div>
<div class="t p2" id="t3a" style="left:346.06px;top:387.64px;font-size:12px;transform:scaleX(0.9369);">OPTIMIZES HEEL IMPACT DISPERSION</div>
<div class="t p2" id="t3b" style="left:348.57px;top:402.04px;font-size:12px;transform:scaleX(0.9252);">+ 40% HARDER WEARING</div>
<div class="t h2" id="t4" style="left:312.00px;top:475.61px;font-size:17px;transform:scaleX(0.9498);">TPE SHOCK-ABSORBING LAYER</div>
<div class="t p" id="t4a" style="left:313.53px;top:509.74px;font-size:13.6px;transform:scaleX(0.9667);">Softer feel</div>
<div class="t p" id="t4c" style="left:390.78px;top:509.74px;font-size:13.6px;transform:scaleX(0.9703);">Enhanced durability</div>
<div class="t p" id="t4b" style="left:313.75px;top:524.74px;font-size:13.6px;transform:scaleX(0.9075);">vs standard EVA</div>

<div class="bul" style="position:absolute;left:379.9px;top:515.3px;width:2.8px;height:2.8px;border-radius:50%;background:#3a3a3a"></div>
<div class="ln" style="left:225px;top:177.4px;width:122px"></div><div class="dot" style="left:344.4px;top:175px"></div>
<div class="ln" style="left:178.8px;top:261px;width:122px"></div><div class="dot" style="left:298.8px;top:258.6px"></div>
<div class="ln" style="left:294px;top:373.1px;width:121.5px"></div><div class="dot" style="left:290.4px;top:370.8px"></div>
<div class="ln" style="left:186px;top:483.3px;width:120.8px"></div><div class="dot" style="left:182.6px;top:481px"></div>

</body></html>
